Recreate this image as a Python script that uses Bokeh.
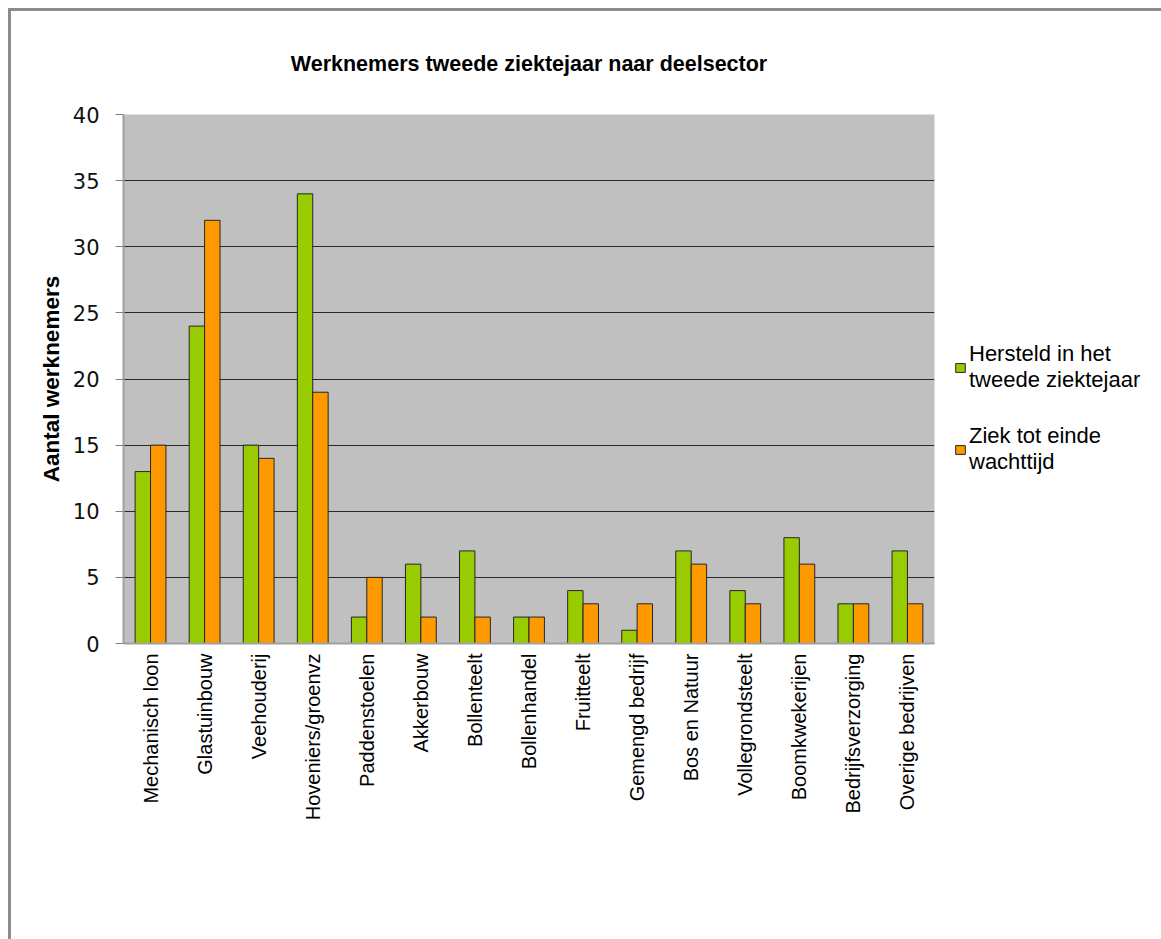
from math import pi
from bokeh.plotting import figure
from bokeh.models import ColumnDataSource, Legend, LegendItem
from bokeh.transform import dodge
from bokeh.embed import file_html
from bokeh.resources import INLINE

categories = ["Mechanisch loon", "Glastuinbouw", "Veehouderij", "Hoveniers/groenvz",
              "Paddenstoelen", "Akkerbouw", "Bollenteelt", "Bollenhandel", "Fruitteelt",
              "Gemengd bedrijf", "Bos en Natuur", "Vollegrondsteelt", "Boomkwekerijen",
              "Bedrijfsverzorging", "Overige bedrijven"]
hersteld = [13, 24, 15, 34, 2, 6, 7, 2, 4, 1, 7, 4, 8, 3, 7]
ziek = [15, 32, 14, 19, 5, 2, 2, 2, 3, 3, 6, 3, 6, 3, 3]
y_ticks = [0, 5, 10, 15, 20, 25, 30, 35, 40]

src = ColumnDataSource(dict(cats=categories, hersteld=hersteld, ziek=ziek))

p = figure(frame_width=811, frame_height=529, x_range=categories, y_range=(0, 40),
           output_backend="svg", toolbar_location=None,
           min_border_left=112, min_border_right=227,
           min_border_top=103, min_border_bottom=296,
           background_fill_color="#C0C0C0", border_fill_color="white",
           styles={"margin-left": "8px", "margin-top": "8px",
                   "border-left": "3px solid #8c8c8c",
                   "border-top": "3px solid #8c8c8c"})
p.outline_line_color = None

p.title.text = "Werknemers tweede ziektejaar naar deelsector"
p.title.align = "center"
p.title.text_font = "Liberation Sans"
p.title.text_font_size = "21.5px"
p.title.text_font_style = "bold"
p.title.text_color = "black"
p.title.standoff = 77

r1 = p.vbar(x=dodge("cats", -0.1425, range=p.x_range), top="hersteld", width=0.285,
            source=src, fill_color="#99CC00", line_color="#262626", line_width=1)
r2 = p.vbar(x=dodge("cats", 0.1425, range=p.x_range), top="ziek", width=0.285,
            source=src, fill_color="#FF9900", line_color="#262626", line_width=1)

p.xgrid.grid_line_color = None
p.ygrid.grid_line_color = "#2a2a2a"
p.ygrid.grid_line_width = 1
p.yaxis.ticker = y_ticks

p.yaxis.axis_line_color = "#a0a0a0"
p.yaxis.axis_line_width = 2
p.yaxis.major_tick_line_color = "#808080"
p.yaxis.major_tick_out = 8
p.yaxis.major_tick_in = 0
p.yaxis.minor_tick_line_color = None
p.yaxis.major_label_text_font = "DejaVu Sans"
p.yaxis.major_label_text_font_size = "21px"
p.yaxis.major_label_text_color = "#111111"
p.yaxis.major_label_standoff = 16
p.yaxis.axis_label = "Aantal werknemers"
p.yaxis.axis_label_text_font = "Liberation Sans"
p.yaxis.axis_label_text_font_size = "22.5px"
p.yaxis.axis_label_text_font_style = "bold"
p.yaxis.axis_label_text_color = "black"
p.yaxis.axis_label_standoff = 6

p.xaxis.axis_line_color = "#a0a0a0"
p.xaxis.axis_line_width = 2
p.xaxis.major_tick_line_color = None
p.xaxis.minor_tick_line_color = None
p.xaxis.major_label_orientation = pi / 2
p.xaxis.major_label_text_font = "Liberation Sans"
p.xaxis.major_label_text_font_size = "20px"
p.xaxis.major_label_text_color = "black"
p.xaxis.major_label_standoff = 4

legend = Legend(items=[LegendItem(label="Hersteld in het\ntweede ziektejaar", renderers=[r1]),
                       LegendItem(label="Ziek tot einde\nwachttijd", renderers=[r2])],
                location=(20, 168))
legend.padding = 0
legend.margin = 0
legend.border_line_color = None
legend.background_fill_alpha = 0
legend.glyph_width = 12
legend.glyph_height = 11
legend.label_standoff = 3
legend.spacing = 30
legend.label_text_font = "Liberation Sans"
legend.label_text_font_size = "22px"
legend.label_text_line_height = 1.2
legend.label_text_color = "black"
p.add_layout(legend, "right")

open("out.html", "w").write(file_html(p, INLINE))
